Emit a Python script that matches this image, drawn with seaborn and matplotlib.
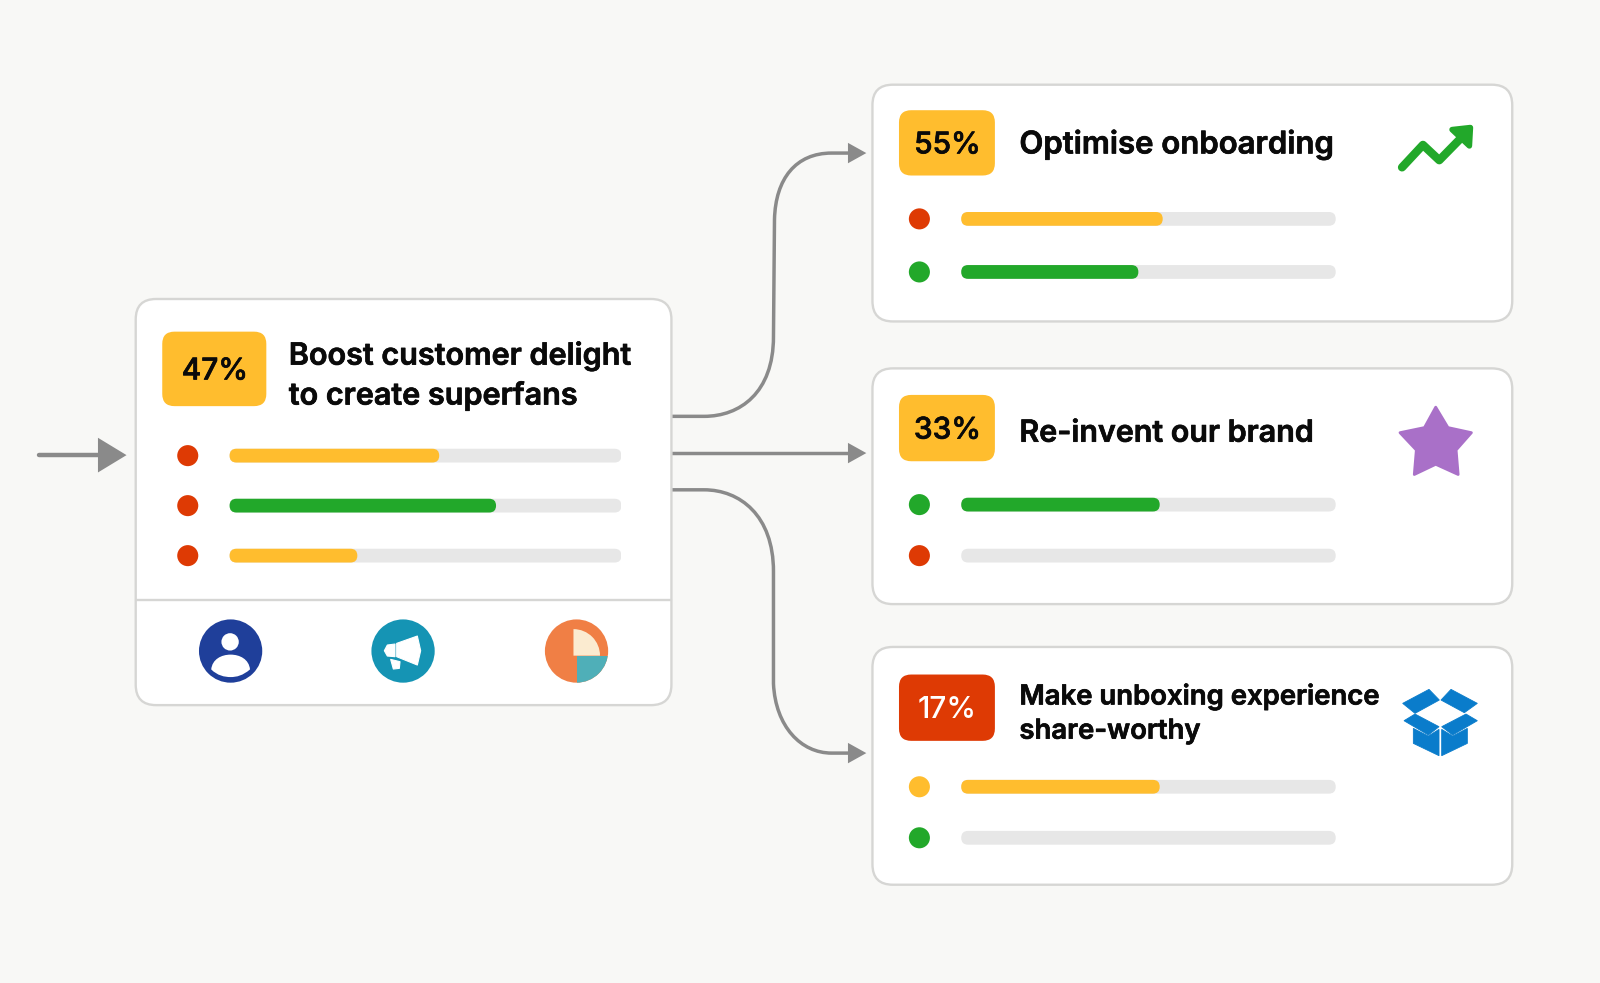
import pandas as pd
import seaborn as sns
import matplotlib
matplotlib.use("Agg")
import matplotlib.pyplot as plt
import matplotlib.patheffects as pe
from matplotlib.patches import FancyBboxPatch, Circle, Wedge, Polygon, Rectangle, PathPatch
from matplotlib.path import Path

# Colours
BG = "#F8F8F6"
EDGE = "#D6D6D4"
AMBER = "#FFBD2E"
RED = "#DE3A04"
GREEN = "#22A82A"
TRACK = "#E7E7E7"
ARROW = "#8A8A8A"
INK = "#0A0A0A"

# Card data
badges = ["47%", "55%", "33%", "17%"]
badge_colors = [AMBER, AMBER, AMBER, RED]
main_values = [53.5, 68, 32.6]
main_bar_colors = [AMBER, GREEN, AMBER]
main_dot_colors = [RED, RED, RED]
onboard_values = [53.8, 47.3]
onboard_bar_colors = [AMBER, GREEN]
onboard_dot_colors = [RED, GREEN]
brand_values = [53, 0]
brand_bar_colors = [GREEN, TRACK]
brand_dot_colors = [GREEN, RED]
unbox_values = [53, 0]
unbox_bar_colors = [AMBER, TRACK]
unbox_dot_colors = [AMBER, GREEN]

W, H = 1568, 963.3
sns.set_theme(style="white")
plt.rcParams["font.family"] = ["Inter", "DejaVu Sans"]

fig = plt.figure(figsize=(16, 9.83), dpi=100, facecolor=BG)
ax = fig.add_axes([0, 0, 1, 1])
ax.set_xlim(0, W)
ax.set_ylim(H, 0)
ax.axis("off")


def round_box(x0, y0, x1, y1, r, fc, ec="none", lw=0, z=2):
    p = FancyBboxPatch((x0, y0), x1 - x0, y1 - y0, boxstyle=f"round,pad=0,rounding_size={r}",
                       fc=fc, ec=ec, lw=lw, zorder=z)
    ax.add_patch(p)


def draw_rows(values, bar_colors, dot_colors, track_x0, track_x1, y_first, spacing):
    # bars and status dots for one card, percent scale along x
    n = len(values)
    track_w = track_x1 - track_x0
    dot_off = 41
    margin = 60
    left = track_x0 - margin
    top = y_first - spacing / 2
    ax_h = spacing * n
    rows_ax = fig.add_axes([left / W, 1 - (top + ax_h) / H, (track_w + margin) / W, ax_h / H])
    rows_ax.patch.set_alpha(0)
    df = pd.DataFrame({"row": range(n), "value": values, "full": [100] * n,
                       "dot": [-dot_off / track_w * 100] * n})
    bar_w = 13.5 / spacing
    sns.barplot(data=df, x="full", y="row", orient="h", color=TRACK, width=bar_w, saturation=1, ax=rows_ax)
    sns.barplot(data=df, x="value", y="row", orient="h", hue="row", palette=bar_colors, dodge=False,
                width=bar_w, saturation=1, legend=False, ax=rows_ax)
    sns.scatterplot(data=df, x="dot", y="row", hue="row", palette=dot_colors, s=230, linewidth=0,
                    legend=False, ax=rows_ax, zorder=5)
    rows_ax.set_xlim(-margin / track_w * 100, 100)
    rows_ax.set_ylim(n - 0.5, -0.5)
    rows_ax.axis("off")
    # swap the square bars for rounded ones
    r = 6.7 * 100 / track_w
    aspect = (1 / spacing) / (100 / track_w)
    for bar in list(rows_ax.patches):
        x, y, w, h = bar.get_x(), bar.get_y(), bar.get_width(), bar.get_height()
        color = bar.get_facecolor()
        bar.remove()
        if w > 0:
            rows_ax.add_patch(FancyBboxPatch((x, y), w, h, boxstyle=f"round,pad=0,rounding_size={r}",
                                             mutation_aspect=aspect, fc=color, ec="none", zorder=3))


def connector(points, codes):
    ax.add_patch(PathPatch(Path(points, codes), fc="none", ec=ARROW, lw=2.5, capstyle="round", zorder=1))


def arrow_head(x0, x1, y, half):
    ax.add_patch(Polygon([(x0, y - half), (x1, y), (x0, y + half)], fc=ARROW, ec="none", zorder=1))


def zoomed(x0, y0, pts):
    return [((x0 + px / 3) / 1.0204, (y0 + py / 3) / 1.0204) for px, py in pts]


# Cards
round_box(133, 293, 658, 691, 20, "white", EDGE, 1.7)
round_box(855, 83, 1482, 315, 20, "white", EDGE, 1.7)
round_box(855, 361, 1482, 592, 20, "white", EDGE, 1.7)
round_box(855, 634, 1482, 867, 20, "white", EDGE, 1.7)
ax.plot([133, 658], [588, 588], color=EDGE, lw=1.7, zorder=3)

# Badges
heavy = [pe.withStroke(linewidth=0.5, foreground=INK)]
badge_boxes = [(159, 325, 261, 398), (881, 108, 975, 172), (881, 387, 975, 452), (881, 661, 975, 726)]
for box, label, color in zip(badge_boxes, badges, badge_colors):
    round_box(*box, 12, color, z=3)
    t = ax.text((box[0] + box[2]) / 2 + 0.5, (box[1] + box[3]) / 2 + 2.5, label, ha="center", va="center", fontsize=21.5,
                fontweight=500, color="white" if color == RED else INK, zorder=4)
    if color != RED:
        t.set_path_effects(heavy)

# Titles
title_kw = dict(ha="left", va="center", fontweight=600, color=INK, zorder=4, path_effects=heavy)
ax.text(283, 349, "Boost customer delight", fontsize=22, **title_kw)
ax.text(283, 388, "to create superfans", fontsize=22, **title_kw)
ax.text(999, 142, "Optimise onboarding", fontsize=22.4, **title_kw)
ax.text(999, 425, "Re-invent our brand", fontsize=21.9, **title_kw)
ax.text(999, 683, "Make unboxing experience", fontsize=19.8, **title_kw)
ax.text(999, 717, "share-worthy", fontsize=19.8, **title_kw)

# Connectors
C = Path.CURVE4
L = Path.LINETO
M = Path.MOVETO
connector([(658, 408), (690, 408), (725, 408), (758, 385), (758, 330), (759, 215), (760, 175), (780, 150), (815, 150), (832, 150)],
          [M, L, C, C, C, L, C, C, C, L])
connector([(658, 444), (832, 444)], [M, L])
connector([(658, 480), (690, 480), (725, 480), (758, 505), (758, 560), (758, 670), (760, 712), (785, 738), (815, 738), (832, 738)],
          [M, L, C, C, C, L, C, C, C, L])
arrow_head(831, 849, 150, 10)
arrow_head(831, 849, 444, 10)
arrow_head(831, 849, 738, 10)
ax.plot([38, 100], [446, 446], color=ARROW, lw=3.2, solid_capstyle="round", zorder=1)
arrow_head(96, 124, 446, 17)

# Bars and dots
draw_rows(main_values, main_bar_colors, main_dot_colors, 225, 609, 446.5, 49)
draw_rows(onboard_values, onboard_bar_colors, onboard_dot_colors, 942, 1309, 214.5, 52)
draw_rows(brand_values, brand_bar_colors, brand_dot_colors, 942, 1309, 494.5, 50)
draw_rows(unbox_values, unbox_bar_colors, unbox_dot_colors, 942, 1309, 771, 50)

# Trend icon
ax.plot([1374, 1394.5, 1410.5, 1436], [164, 142, 157, 131], color=GREEN, lw=6, solid_capstyle="round",
        solid_joinstyle="round", zorder=4)
ax.add_patch(Polygon([(1423, 127), (1441, 125), (1440, 143)], fc=GREEN, ec=GREEN, lw=4, joinstyle="round", zorder=4))

# Star icon
star = [(1407, 399), (1419, 419), (1442, 424), (1427, 441), (1429, 465), (1407, 455), (1386, 465), (1388, 441), (1372, 424), (1396, 419)]
ax.add_patch(Polygon(star, fc="#A970C8", ec="#A970C8", lw=2, joinstyle="round", zorder=4))

# Box icon
box_parts = [
    [(68, 85), (147, 43), (178, 75), (105, 115)],
    [(183, 75), (213, 43), (292, 85), (253, 113)],
    [(72, 137), (105, 117), (177, 155), (145, 180)],
    [(185, 155), (258, 117), (292, 137), (218, 180)],
    [(100, 160), (145, 183), (177, 163), (177, 242), (100, 205)],
    [(185, 163), (218, 183), (262, 160), (262, 205), (185, 242)],
]
for part in box_parts:
    ax.add_patch(Polygon(zoomed(1380, 675, part), fc="#0A7CCB", ec="#0A7CCB", lw=0.6, zorder=4))

# Person icon
ax.add_patch(Circle((226, 638), 31, fc="#1F3F9A", ec="none", zorder=4))
ax.add_patch(Circle((225.5, 629), 8.5, fc="white", ec="none", zorder=5))
body = [(207, 656), (208, 646), (217, 641.5), (226, 641.5), (235, 641.5), (244, 646), (245, 656),
        (238, 662), (232, 663.5), (226, 663.5), (220, 663.5), (213, 662), (207, 656)]
ax.add_patch(PathPatch(Path(body, [M] + [C] * 12), fc="white", ec="none", zorder=5))

# Megaphone icon
ax.add_patch(Circle((395, 638), 31, fc="#1594B4", ec="none", zorder=4))
mega_parts = [
    [(650, 100), (712, 78), (722, 122), (712, 165), (650, 140)],
    [(645, 102), (622, 105), (613, 122), (622, 138), (645, 140)],
    [(632, 148), (660, 155), (658, 175), (640, 177)],
]
for part in mega_parts:
    ax.add_patch(Polygon(zoomed(180, 610, part), fc="white", ec="white", lw=0.8, joinstyle="round", zorder=5))

# Pie icon
pie_bg = Circle((565, 638), 31, fc="#F07F45", ec="none", zorder=4)
ax.add_patch(pie_bg)
teal = Rectangle((565, 642.5), 40, 40, fc="#4FAFB8", ec="none", zorder=5)
ax.add_patch(teal)
teal.set_clip_path(pie_bg)
ax.add_patch(Wedge((562, 642.5), 26, 270, 360, fc="#FBEBD0", ec="none", zorder=5))

fig.savefig("out.png", dpi=100, facecolor=BG)
